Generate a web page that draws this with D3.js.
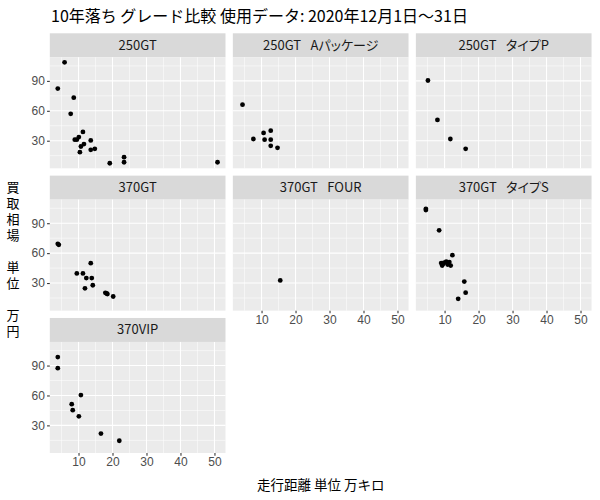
<!DOCTYPE html>
<html><head><meta charset="utf-8">
<script src="https://cdn.jsdelivr.net/npm/d3@7"></script>
<style>body{margin:0;background:#fff}svg{display:block}</style>
</head><body>
<script>
// ---- data (走行距離 万キロ, 買取相場 万円) ----
const grades = ["250GT", "250GT\u2002\u00A0Aパッケージ", "250GT\u2002\u00A0タイプP", "370GT", "370GT\u2002\u00A0FOUR", "370GT\u2002\u00A0タイプS", "370VIP"];

const km_250GT     = [5.9, 3.9, 8.6, 7.7, 11.3, 8.9, 9.5, 10.1, 13.6, 10.7, 11.6, 10.4, 13.6, 14.8, 19.2, 23.4, 23.4, 50.9];
const price_250GT  = [108.6, 82.3, 73.2, 57.0, 38.8, 31.0, 31.0, 33.7, 30.3, 24.2, 26.6, 18.5, 20.9, 21.9, 7.4, 13.5, 8.4, 8.4];

const km_250GTA    = [4.4, 7.6, 10.6, 12.7, 10.9, 12.7, 12.7, 14.7];
const price_250GTA = [66.1, 31.7, 37.8, 40.1, 31.0, 31.0, 24.9, 22.9];

const km_250GTP    = [5.1, 7.9, 11.7, 16.2];
const price_250GTP = [90.4, 50.9, 31.7, 21.9];

const km_370GT     = [3.9, 4.2, 13.6, 9.5, 11.3, 12.3, 13.9, 14.2, 11.9, 17.9, 18.3, 18.5, 20.2];
const price_370GT  = [69.3, 68.3, 49.9, 39.7, 39.7, 35.0, 35.0, 27.8, 24.7, 20.2, 19.5, 18.9, 16.5];

const km_370GTF    = [15.5];
const price_370GTF = [32.6];

const km_370GTS    = [4.5, 4.5, 8.4, 12.3, 9.0, 9.3, 9.9, 10.5, 10.9, 11.4, 11.8, 9.5, 15.8, 16.2, 14.0];
const price_370GTS = [103.2, 104.4, 82.9, 58.0, 50.0, 47.6, 50.5, 51.5, 48.5, 51.0, 47.5, 49.0, 31.5, 20.3, 14.2];

const km_370VIP    = [3.9, 3.9, 10.7, 8.0, 8.3, 10.1, 16.6, 22.0];
const price_370VIP = [98.5, 87.4, 60.4, 51.3, 45.2, 39.1, 21.8, 14.6];

const kmSeries    = [km_250GT, km_250GTA, km_250GTP, km_370GT, km_370GTF, km_370GTS, km_370VIP];
const priceSeries = [price_250GT, price_250GTA, price_250GTP, price_370GT, price_370GTF, price_370GTS, price_370VIP];

const xTicks = [10, 20, 30, 40, 50];
const xMinor = [5, 15, 25, 35, 45];
const yTicks = [30, 60, 90];
const yMinor = [15, 45, 75, 105];

const titleText = "10年落ち グレード比較 使用データ: 2020年12月1日～31日";
const xLabel = "走行距離 単位 万キロ";
const yLabel = "買取相場　単位　万円";

// ---- layout ----
const W = 600, H = 500;
const left0 = 49.8, panelW = 175.7, gapX = 7.33;
const top0 = 33.3, stripH = 24, panelH = 111, gapY = 7.33;
const ncol = 3;

const svg = d3.select("body").append("svg").attr("width", W).attr("height", H);
svg.append("rect").attr("width", W).attr("height", H).attr("fill", "#fff");

const jp = "'Noto Sans CJK JP', 'Noto Sans', sans-serif";
const num = "'Liberation Sans', Arial, sans-serif";

const allX = kmSeries.flat(), allY = priceSeries.flat();
function expand(ext) { const d = (ext[1] - ext[0]) * 0.05; return [ext[0] - d, ext[1] + d]; }
const xDom = expand(d3.extent(allX)), yDom = expand(d3.extent(allY));

const x = d3.scaleLinear().domain(xDom).range([0, panelW]);
const y = d3.scaleLinear().domain(yDom).range([panelH, 0]);

grades.forEach((g, i) => {
  const col = i % ncol, row = Math.floor(i / ncol);
  const px = left0 + col * (panelW + gapX);
  const sy = top0 + row * (stripH + panelH + gapY);
  const py = sy + stripH;
  // strip
  svg.append("rect").attr("x", px).attr("y", sy).attr("width", panelW).attr("height", stripH).attr("fill", "#D9D9D9");
  svg.append("text").attr("x", px + panelW / 2).attr("y", sy + stripH / 2 + 4.5)
    .attr("text-anchor", "middle").attr("font-family", jp).attr("font-size", 13)
    .style("font-feature-settings", "'palt'")
    .attr("fill", "#1A1A1A").text(g);
  const p = svg.append("g").attr("transform", `translate(${px},${py})`);
  p.append("rect").attr("width", panelW).attr("height", panelH).attr("fill", "#EBEBEB");
  // grid
  p.selectAll(".xm").data(xMinor).join("line").attr("x1", d => x(d)).attr("x2", d => x(d)).attr("y1", 0).attr("y2", panelH).attr("stroke", "#fff").attr("stroke-width", 0.53);
  p.selectAll(".ym").data(yMinor).join("line").attr("y1", d => y(d)).attr("y2", d => y(d)).attr("x1", 0).attr("x2", panelW).attr("stroke", "#fff").attr("stroke-width", 0.53);
  p.selectAll(".xM").data(xTicks).join("line").attr("x1", d => x(d)).attr("x2", d => x(d)).attr("y1", 0).attr("y2", panelH).attr("stroke", "#fff").attr("stroke-width", 1.07);
  p.selectAll(".yM").data(yTicks).join("line").attr("y1", d => y(d)).attr("y2", d => y(d)).attr("x1", 0).attr("x2", panelW).attr("stroke", "#fff").attr("stroke-width", 1.07);
  // points
  const pts = kmSeries[i].map((k, j) => [k, priceSeries[i][j]]);
  p.selectAll("circle").data(pts).join("circle").attr("cx", d => x(d[0])).attr("cy", d => y(d[1])).attr("r", 2.4).attr("fill", "#000");
  // y axis on first column
  if (col === 0) {
    const ya = p.append("g").call(d3.axisLeft(y).tickValues(yTicks).tickSize(2.74).tickPadding(2.2));
    ya.select(".domain").remove();
    ya.selectAll("line").attr("stroke", "#333").attr("stroke-width", 1.07);
    ya.selectAll("text").attr("font-family", num).attr("font-size", 12).attr("fill", "#4D4D4D");
  }
  // x axis where no panel below
  if (i + ncol >= grades.length) {
    const xa = p.append("g").attr("transform", `translate(0,${panelH})`).call(d3.axisBottom(x).tickValues(xTicks).tickSize(2.74).tickPadding(2.2));
    xa.select(".domain").remove();
    xa.selectAll("line").attr("stroke", "#333").attr("stroke-width", 1.07);
    xa.selectAll("text").attr("font-family", num).attr("font-size", 12).attr("fill", "#4D4D4D");
  }
});

// title
svg.append("text").attr("x", 51).attr("y", 21.5).attr("font-family", jp).attr("font-size", 16).attr("fill", "#000").text(titleText);
// x label
svg.append("text").attr("x", left0 + (3 * panelW + 2 * gapX) / 2).attr("y", 489.5).attr("text-anchor", "middle")
  .attr("font-family", jp).attr("font-size", 13.5).attr("fill", "#000").text(xLabel);
// y label (vertical, upright characters)
svg.append("text").attr("x", 13).attr("y", 180.5)
  .style("writing-mode", "vertical-rl").style("text-orientation", "upright")
  .attr("letter-spacing", 3.0)
  .attr("font-family", jp).attr("font-size", 13).attr("fill", "#000").text(yLabel);
</script>
</body></html>
